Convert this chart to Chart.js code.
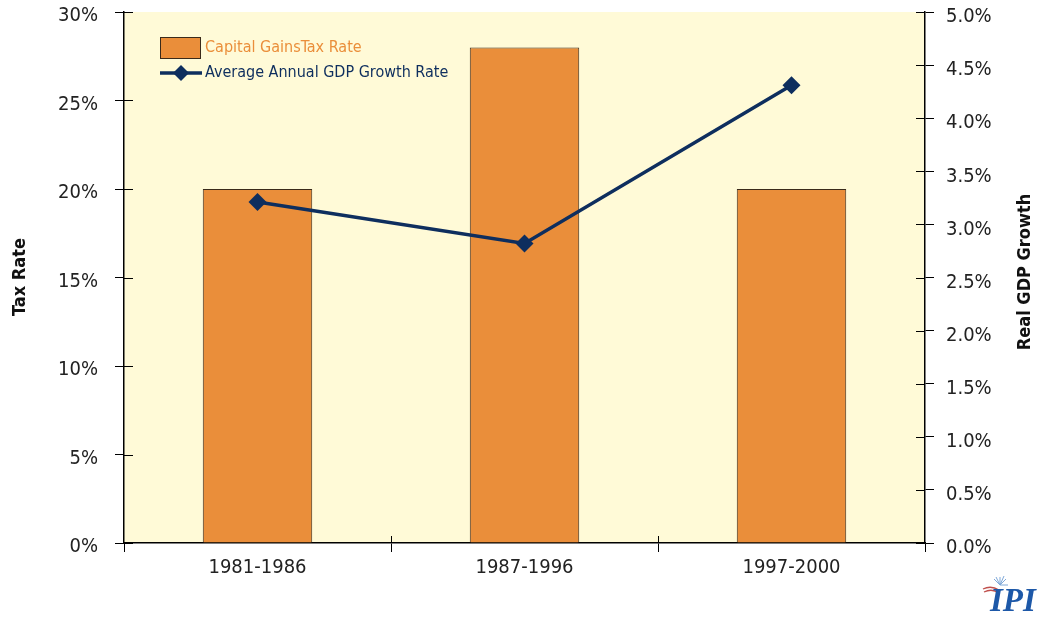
<!DOCTYPE html>
<html>
<head>
<meta charset="utf-8">
<script src="https://cdn.jsdelivr.net/npm/chart.js@4.4.1/dist/chart.umd.min.js"></script>
<style>
  html,body{margin:0;padding:0;background:#fff;}
  #wrap{position:relative;width:1041px;height:618px;}
  #logo{position:absolute;left:990px;top:582px;font:italic bold 33px 'Liberation Serif',serif;color:#1d58a8;letter-spacing:0px;}
  #mark{position:absolute;left:980px;top:575px;}
</style>
</head>
<body>
<div id="wrap">
<canvas id="c" width="1041" height="618"></canvas>
<svg id="mark" width="30" height="24" viewBox="0 0 30 24">
  <g stroke="#7fa8d8" stroke-width="1">
    <line x1="20" y1="10" x2="20" y2="2"/><line x1="20" y1="10" x2="26" y2="4"/><line x1="20" y1="10" x2="28" y2="10"/>
    <line x1="20" y1="10" x2="14" y2="4"/><line x1="20" y1="10" x2="24" y2="1"/><line x1="20" y1="10" x2="16" y2="2"/>
  </g>
  <g fill="none" stroke="#c0504d" stroke-width="1.3">
    <path d="M3 14 Q11 10 19 15"/><path d="M4 17 Q12 13 19 18"/>
  </g>
</svg>
<div id="logo">IPI</div>
</div>
<script>
const categories = ['1981-1986', '1987-1996', '1997-2000'];
const taxRate = [20, 28, 20];
const gdpGrowth = [3.21, 2.82, 4.31];
const seriesNames = ['Capital GainsTax Rate', 'Average Annual GDP Growth Rate'];
const axisTitles = ['Tax Rate', 'Real GDP Growth'];
const leftTicks = [0, 5, 10, 15, 20, 25, 30];
const rightTicks = [0, 0.5, 1, 1.5, 2, 2.5, 3, 3.5, 4, 4.5, 5];

const FONT = "'Liberation Sans Narrow','DejaVu Sans Condensed',sans-serif";
const ORANGE = '#EA8E3A';
const NAVY = '#0E2E5E';

const bgPlugin = {
  id: 'bg',
  beforeDraw(chart) {
    const {ctx, chartArea: a} = chart;
    ctx.save();
    ctx.fillStyle = '#FFFAD7';
    ctx.fillRect(a.left, a.top, a.right - a.left, a.bottom - a.top);
    ctx.restore();
  }
};

const innerTicks = {
  id: 'innerTicks',
  afterDraw(chart) {
    const {ctx, chartArea: a, scales} = chart;
    ctx.save();
    ctx.strokeStyle = '#000';
    ctx.lineWidth = 1;
    ['y', 'y1'].forEach(id => {
      const s = scales[id];
      const x = id === 'y' ? a.left : a.right;
      const d = id === 'y' ? 9 : -9;
      s.ticks.forEach((t, i) => {
        const y = Math.round(s.getPixelForTick(i)) + 0.5;
        ctx.beginPath(); ctx.moveTo(x, y); ctx.lineTo(x + d, y); ctx.stroke();
      });
    });
    const xs = scales.x;
    const half = (xs.getPixelForValue(1) - xs.getPixelForValue(0)) / 2;
    for (let i = 1; i < categories.length; i++) {
      const x = Math.round(xs.getPixelForValue(i) - half) + 0.5;
      ctx.beginPath(); ctx.moveTo(x, a.bottom); ctx.lineTo(x, a.bottom - 7); ctx.stroke();
    }
    ctx.fillStyle = '#111';
    ctx.font = 'bold 18px ' + FONT;
    ctx.textAlign = 'center';
    ctx.textBaseline = 'middle';
    [[20, 277, axisTitles[0]], [1025, 272, axisTitles[1]]].forEach(([x, y, t]) => {
      ctx.save();
      ctx.translate(x, y);
      ctx.rotate(-Math.PI / 2);
      ctx.fillText(t, 0, 0);
      ctx.restore();
    });
    ctx.restore();
  }
};

const legendPlugin = {
  id: 'customLegend',
  afterDraw(chart) {
    const {ctx, chartArea: a} = chart;
    const bar = chart.data.datasets.find(d => d.type === 'bar');
    const line = chart.data.datasets.find(d => d.type === 'line');
    const x0 = a.left + 36;
    ctx.save();
    ctx.font = '16px ' + FONT;
    ctx.textBaseline = 'middle';
    ctx.fillStyle = ORANGE;
    ctx.fillRect(x0, a.top + 25, 40, 21);
    ctx.strokeStyle = '#3a2a1a';
    ctx.lineWidth = 1;
    ctx.strokeRect(x0 + 0.5, a.top + 25.5, 40, 21);
    ctx.fillStyle = ORANGE;
    ctx.fillText(bar.label, x0 + 45, a.top + 36);
    const ly = a.top + 61;
    ctx.strokeStyle = NAVY;
    ctx.lineWidth = 3.5;
    ctx.beginPath(); ctx.moveTo(x0, ly); ctx.lineTo(x0 + 42, ly); ctx.stroke();
    ctx.fillStyle = NAVY;
    ctx.beginPath();
    ctx.moveTo(x0 + 21, ly - 8); ctx.lineTo(x0 + 29, ly); ctx.lineTo(x0 + 21, ly + 8); ctx.lineTo(x0 + 13, ly);
    ctx.closePath(); ctx.fill();
    ctx.fillText(line.label, x0 + 45, ly);
    ctx.restore();
  }
};

function noPad(s) { s.paddingTop = 0; s.paddingBottom = 0; s.paddingLeft = 0; s.paddingRight = 0; }

Chart.defaults.font.family = FONT;
Chart.defaults.color = '#222';

new Chart(document.getElementById('c'), {
  data: {
    labels: categories,
    datasets: [
      {
        type: 'line',
        label: seriesNames[1],
        data: gdpGrowth,
        yAxisID: 'y1',
        borderColor: NAVY,
        backgroundColor: NAVY,
        borderWidth: 3.5,
        pointStyle: 'rectRot',
        pointRadius: 9,
        pointBorderWidth: 0,
        tension: 0,
        order: 0
      },
      {
        type: 'bar',
        label: seriesNames[0],
        data: taxRate,
        yAxisID: 'y',
        backgroundColor: ORANGE,
        borderColor: '#3a2a1a',
        borderWidth: 1,
        categoryPercentage: 1,
        barPercentage: 0.41,
        order: 1
      }
    ]
  },
  options: {
    responsive: false,
    animation: false,
    layout: {padding: {top: 12, left: 0, right: 0, bottom: 0}},
    plugins: {legend: {display: false}, tooltip: {enabled: false}},
    scales: {
      x: {
        offset: true,
        grid: {display: true, drawOnChartArea: false, offset: true, color: '#000', tickLength: 9, tickWidth: 1},
        border: {display: true, color: '#000', width: 1.5},
        ticks: {font: {size: 20}, color: '#222', padding: 4},
        afterFit(s) { s.height = 75; noPad(s); }
      },
      y: {
        position: 'left',
        min: 0, max: 30,
        afterBuildTicks(s) { s.ticks = leftTicks.map(v => ({value: v})); },
        ticks: {font: {size: 20}, color: '#222', padding: 17, labelOffset: 4, callback: v => v + '%'},
        grid: {display: true, drawOnChartArea: false, color: '#000', tickLength: 9},
        border: {display: true, color: '#000', width: 1.5},
        afterFit(s) { s.width = 124; noPad(s); }
      },
      y1: {
        position: 'right',
        min: 0, max: 5,
        afterBuildTicks(s) { s.ticks = rightTicks.map(v => ({value: v})); },
        ticks: {font: {size: 20}, color: '#222', padding: 12, labelOffset: 5, callback: v => v.toFixed(1) + '%'},
        grid: {display: true, drawOnChartArea: false, color: '#000', tickLength: 9},
        border: {display: true, color: '#000', width: 1.5},
        afterFit(s) { s.width = 116; noPad(s); }
      }
    }
  },
  plugins: [bgPlugin, innerTicks, legendPlugin]
});
</script>
</body>
</html>
